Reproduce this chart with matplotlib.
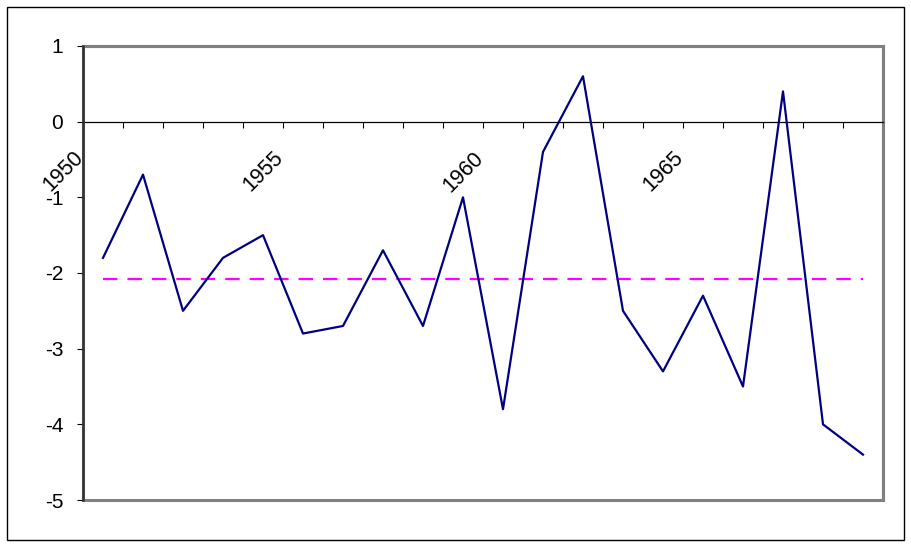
import numpy as np
import matplotlib
matplotlib.use('Agg')
import matplotlib.pyplot as plt
from matplotlib.patches import Rectangle

plt.rcParams['font.family'] = ['Liberation Sans', 'DejaVu Sans']

# data
years = list(range(1950, 1970))
values = [-1.8, -0.7, -2.5, -1.8, -1.5, -2.8, -2.7, -1.7, -2.7, -1.0,
          -3.8, -0.4, 0.6, -2.5, -3.3, -2.3, -3.5, 0.4, -4.0, -4.4]
mean_value = -2.08
labelled_years = [1950, 1955, 1960, 1965]
y_ticks = [-5, -4, -3, -2, -1, 0, 1]

fig = plt.figure(figsize=(9.11, 5.46), dpi=100)
ax = fig.add_axes([83 / 911, 46 / 546, 800 / 911, 454 / 546])

x = np.arange(len(years))
ax.plot(x, values, color='#000080', lw=1.6, zorder=4)
ax.plot([x[0], x[-1]], [mean_value, mean_value], color='#FF00FF', lw=1.6,
        dashes=(6.5, 4.5), zorder=3)

ax.set_xlim(-0.5, len(years) - 0.5)
ax.set_ylim(-5, 1)

# y axis
ax.set_yticks(y_ticks)
ax.set_yticklabels([str(t) for t in y_ticks])
ax.tick_params(axis='y', direction='out', length=4.3, width=0.8, color='black',
               labelsize=15, pad=10)
ax.spines['left'].set_color('#333333')
ax.spines['left'].set_linewidth(1.8)
ax.spines['left'].set_zorder(5)

# category axis crosses at zero
ax.spines['bottom'].set_position(('data', 0))
ax.spines['bottom'].set_color('black')
ax.spines['bottom'].set_linewidth(0.9)
ax.set_xticks(np.arange(len(years) + 1) - 0.5)
ax.set_xticklabels([])
ax.tick_params(axis='x', direction='out', length=4.3, width=0.8, color='black')

for yr in labelled_years:
    i = years.index(yr)
    ax.annotate(str(yr), xy=(i - 0.5, 0), xycoords='data',
                xytext=(3.5, -18.5), textcoords='offset points',
                rotation=45, ha='right', va='top', fontsize=15.5)

# gray plot-area frame
for s in ['top', 'right']:
    ax.spines[s].set_color('#808080')
    ax.spines[s].set_linewidth(2.2)
ax.add_patch(Rectangle((0, 0), 1, 1, transform=ax.transAxes, fill=False,
                       edgecolor='#808080', lw=2.2, clip_on=False, zorder=1))

# outer chart border
fig.patches.append(Rectangle((7 / 911, 6 / 546), 897 / 911, 533 / 546,
                             transform=fig.transFigure, fill=False,
                             edgecolor='black', lw=1))

fig.savefig('out.png', dpi=100)
